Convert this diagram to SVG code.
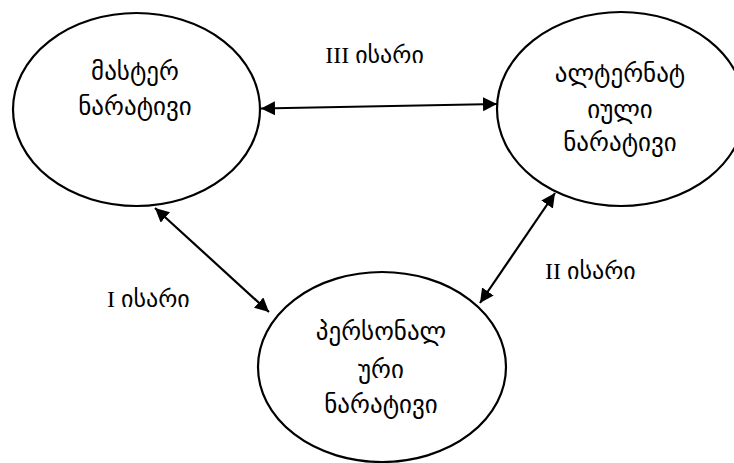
<svg xmlns="http://www.w3.org/2000/svg" width="734" height="463" viewBox="0 0 734 463">
<defs>
<style>
.node{fill:#fff;stroke:#000;stroke-width:2.2}
.t{font-family:"Liberation Serif","DejaVu Sans ExtraLight","DejaVu Sans",sans-serif;font-size:25px;fill:#000;text-anchor:middle}
.lbl{font-family:"Liberation Serif","DejaVu Sans ExtraLight","DejaVu Sans",sans-serif;font-size:24px;fill:#000}
.edge{stroke:#000;stroke-width:2.2;fill:none;marker-start:url(#ah);marker-end:url(#ah)}
</style>
<marker id="ah" markerUnits="userSpaceOnUse" markerWidth="16" markerHeight="14" refX="14" refY="7" orient="auto-start-reverse" viewBox="0 0 16 14">
<path d="M0,0 L14,7 L0,14 Z" fill="#000"/>
</marker>
</defs>
<rect width="734" height="463" fill="#fff"/>
<g id="edges">
<line class="edge" x1="261" y1="108.5" x2="497" y2="104"/>
<line class="edge" x1="155" y1="208" x2="269" y2="312"/>
<line class="edge" x1="555" y1="193" x2="480" y2="303"/>
</g>
<g id="node-master">
<ellipse class="node" cx="136.5" cy="109.5" rx="123.5" ry="96.5"/>
<text class="t" x="135" y="80">მასტერ</text>
<text class="t" x="135" y="115">ნარატივი</text>
</g>
<g id="node-alternative">
<ellipse class="node" cx="621" cy="109" rx="124" ry="97"/>
<text class="t" x="620" y="82">ალტერნატ</text>
<text class="t" x="620" y="118">იული</text>
<text class="t" x="620" y="151">ნარატივი</text>
</g>
<g id="node-personal">
<ellipse class="node" cx="382" cy="367" rx="124" ry="95"/>
<text class="t" x="381" y="340">პერსონალ</text>
<text class="t" x="381" y="378">ური</text>
<text class="t" x="381" y="413">ნარატივი</text>
</g>
<g id="labels">
<text class="lbl" x="374.5" y="63" text-anchor="middle">III ისარი</text>
<text class="lbl" x="107" y="307">I ისარი</text>
<text class="lbl" x="545" y="279">II ისარი</text>
</g>
</svg>
